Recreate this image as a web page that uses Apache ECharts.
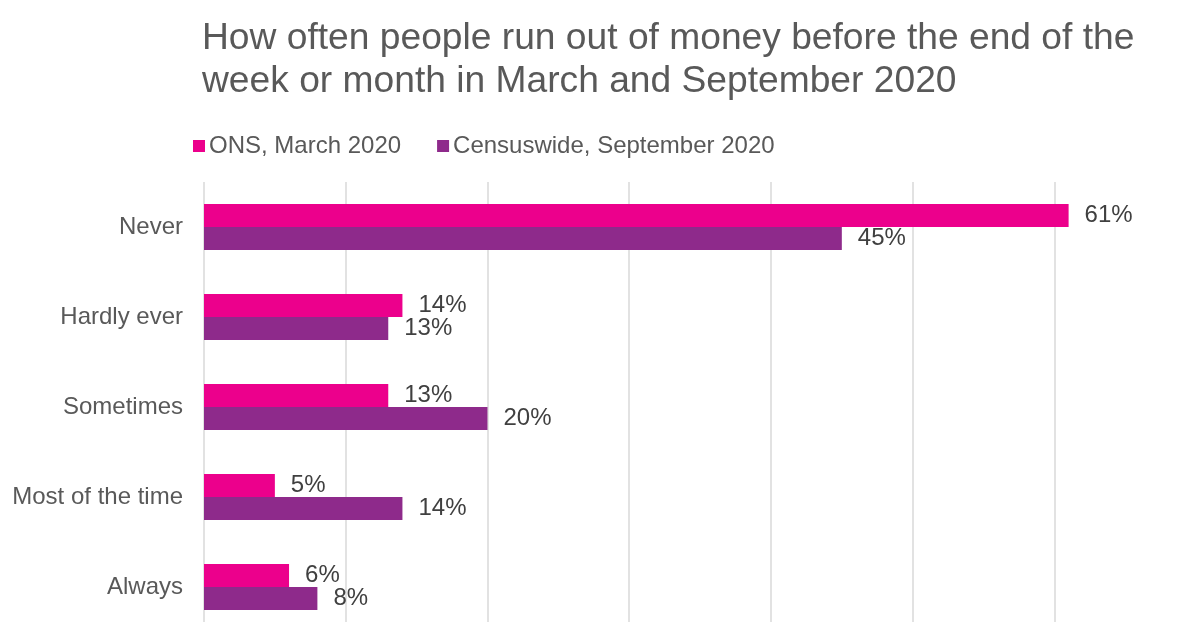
<!DOCTYPE html>
<html>
<head>
<meta charset="utf-8">
<script src="https://cdn.jsdelivr.net/npm/echarts@6/dist/echarts.min.js"></script>
<style>
  html, body { margin: 0; padding: 0; background: #ffffff; }
  #chart { width: 1182px; height: 622px; }
</style>
</head>
<body>
<div id="chart"></div>
<script>
// Frequency of running out of money before the end of the week or month
const categories = ['Never', 'Hardly ever', 'Sometimes', 'Most of the time', 'Always'];
const onsMarch2020 = [61, 14, 13, 5, 6];
const censuswideSept2020 = [45, 13, 20, 14, 8];
const seriesNames = ['ONS, March 2020', 'Censuswide, September 2020'];
const titleText = 'How often people run out of money before the end of the\nweek or month in March and September 2020';

const FONT = '"Liberation Sans", Arial, sans-serif';
const chart = echarts.init(document.getElementById('chart'), null, { renderer: 'canvas' });

const labelStyle = {
  show: true,
  position: 'right',
  distance: 16,
  formatter: '{c}%',
  color: '#404040',
  fontSize: 24,
  fontFamily: FONT
};

chart.setOption({
  backgroundColor: '#ffffff',
  animation: false,
  title: {
    text: titleText,
    left: 197,
    top: 12,
    textStyle: {
      color: '#595959',
      fontSize: 37.2,
      fontWeight: 'normal',
      fontFamily: FONT,
      lineHeight: 43
    }
  },
  legend: {
    data: seriesNames,
    left: 188,
    top: 129,
    icon: 'rect',
    itemWidth: 12,
    itemHeight: 12,
    itemGap: 36,
    textStyle: { color: '#595959', fontSize: 24, fontFamily: FONT, padding: [0, 0, 0, -1] }
  },
  grid: {
    left: 204,
    top: 182,
    width: 978,
    height: 450,
    containLabel: false,
    outerBoundsMode: 'none'
  },
  xAxis: {
    type: 'value',
    min: 0,
    max: 69,
    interval: 10,
    axisLabel: { show: false },
    axisLine: { show: false },
    axisTick: { show: false },
    splitLine: { show: true, showMaxLine: false, lineStyle: { color: '#d9d9d9', width: 1.5 } }
  },
  yAxis: {
    type: 'category',
    data: categories,
    inverse: true,
    axisLine: { show: false },
    axisTick: { show: false },
    splitLine: { show: false },
    axisLabel: {
      margin: 21,
      color: '#595959',
      fontSize: 24,
      fontFamily: FONT
    }
  },
  series: [
    {
      name: seriesNames[0],
      type: 'bar',
      data: onsMarch2020,
      barWidth: 23,
      barGap: '0%',
      itemStyle: { color: '#EC008C' },
      label: labelStyle
    },
    {
      name: seriesNames[1],
      type: 'bar',
      data: censuswideSept2020,
      barWidth: 23,
      barGap: '0%',
      itemStyle: { color: '#8E2A8B' },
      label: labelStyle
    }
  ]
});
</script>
</body>
</html>
